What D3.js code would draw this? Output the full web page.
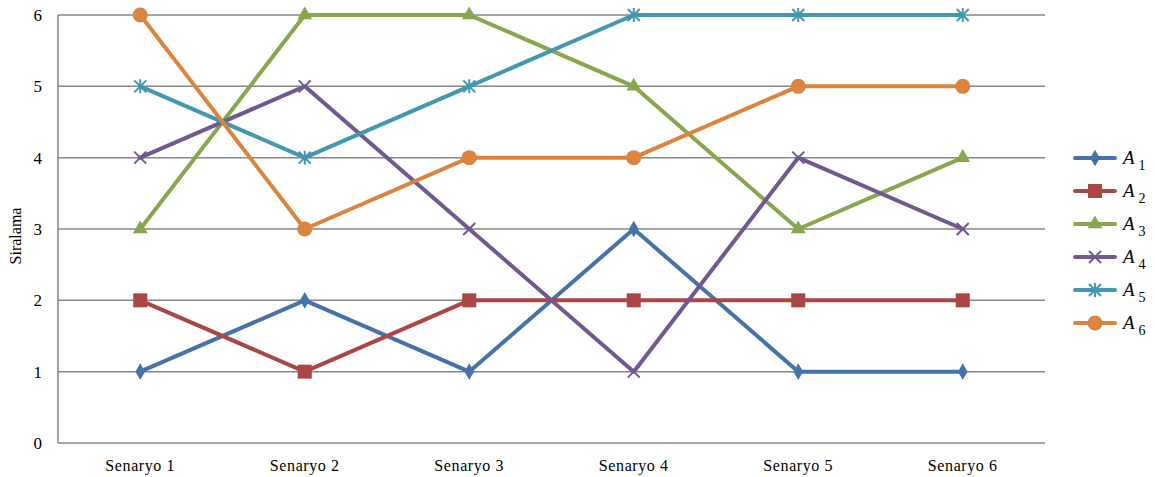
<!DOCTYPE html>
<html><head><meta charset="utf-8">
<script src="https://cdn.jsdelivr.net/npm/d3@7"></script>
<style>body{margin:0;background:#fff}svg{display:block}</style>
</head><body><svg id="c" width="1155" height="477"></svg>
<script>
const categories = ["Senaryo 1","Senaryo 2","Senaryo 3","Senaryo 4","Senaryo 5","Senaryo 6"];
const yTicks = [0,1,2,3,4,5,6];
const seriesNames = ["1","2","3","4","5","6"];
const A1 = [1,2,1,3,1,1];
const A2 = [2,1,2,2,2,2];
const A3 = [3,6,6,5,3,4];
const A4 = [4,5,3,1,4,3];
const A5 = [5,4,5,6,6,6];
const A6 = [6,3,4,4,5,5];
const seriesValues = [A1,A2,A3,A4,A5,A6];
const colors = ["#4572A7","#AA4643","#89A54E","#71588F","#4198AF","#DB843D"];
const markers = ["diamond","square","triangle","x","star","circle"];
const FONT = "'Liberation Serif','Times New Roman',serif";

const svg = d3.select("#c");
const L=58,R=1045,T=15,B=443;
const x = d3.scaleBand().domain(categories).range([L,R]);
const y = d3.scaleLinear().domain([0,6]).range([B,T]);
const cx = c => x(c)+x.bandwidth()/2;

svg.append("g").selectAll("line").data(yTicks).join("line")
  .attr("x1",L).attr("x2",R).attr("y1",d=>y(d)).attr("y2",d=>y(d))
  .attr("stroke","#868686").attr("stroke-width",1.5);
svg.append("line").attr("x1",L).attr("x2",L).attr("y1",T).attr("y2",B)
  .attr("stroke","#868686").attr("stroke-width",1.5);

const ya = svg.append("g").attr("transform",`translate(${L},0)`)
  .call(d3.axisLeft(y).tickValues(yTicks).tickSize(0).tickPadding(16).tickFormat(d3.format("d")));
ya.select(".domain").remove();
ya.selectAll("text").style("font-family",FONT).style("font-size","17px").attr("fill","#000");

const xa = svg.append("g").attr("transform",`translate(0,${B})`)
  .call(d3.axisBottom(x).tickSize(0).tickPadding(17));
xa.select(".domain").remove();
xa.selectAll("text").style("font-family",FONT).style("font-size","16px").style("letter-spacing","0.6px").attr("fill","#000");

svg.append("text").attr("transform","translate(21,236) rotate(-90)")
  .attr("text-anchor","middle").style("font-family",FONT).style("font-size","16px").text("Siralama");

function drawMarker(g, type, color, px, py){
  if(type==="diamond"){
    g.append("path").attr("d",d3.symbol(d3.symbolDiamond,80)()).attr("transform",`translate(${px},${py})`).attr("fill",color);
  } else if(type==="square"){
    g.append("rect").attr("x",px-7).attr("y",py-7).attr("width",14).attr("height",14).attr("fill",color);
  } else if(type==="triangle"){
    g.append("path").attr("d",d3.symbol(d3.symbolTriangle,95)()).attr("transform",`translate(${px},${py})`).attr("fill",color);
  } else if(type==="x"){
    const s=6;
    g.append("path").attr("d",`M${px-s},${py-s}L${px+s},${py+s}M${px-s},${py+s}L${px+s},${py-s}`).attr("stroke",color).attr("stroke-width",2);
  } else if(type==="star"){
    const s=6;
    g.append("path").attr("d",`M${px-s},${py-s}L${px+s},${py+s}M${px-s},${py+s}L${px+s},${py-s}M${px},${py-s-1}L${px},${py+s+1}`).attr("stroke",color).attr("stroke-width",2);
  } else if(type==="circle"){
    g.append("circle").attr("cx",px).attr("cy",py).attr("r",7.5).attr("fill",color);
  }
}

const line = d3.line().x((d,i)=>cx(categories[i])).y(d=>y(d));
seriesValues.forEach((vals,si)=>{
  const g = svg.append("g");
  g.append("path").attr("d",line(vals)).attr("fill","none").attr("stroke",colors[si])
    .attr("stroke-width",4).attr("stroke-linejoin","round").attr("stroke-linecap","round");
  vals.forEach((v,i)=>drawMarker(g,markers[si],colors[si],cx(categories[i]),y(v)));
});

const legY = d3.scalePoint().domain(seriesNames).range([158,323]);
seriesNames.forEach((n,si)=>{
  const ly = legY(n);
  const g = svg.append("g");
  g.append("line").attr("x1",1075).attr("x2",1115).attr("y1",ly).attr("y2",ly)
    .attr("stroke",colors[si]).attr("stroke-width",4).attr("stroke-linecap","round");
  drawMarker(g,markers[si],colors[si],1095,ly);
  const t = g.append("text").attr("x",1123).attr("y",ly+6).style("font-family",FONT).style("font-size","19px");
  t.append("tspan").style("font-style","italic").text("A");
  t.append("tspan").attr("dx",4).attr("dy",6).style("font-size","14px").text(n);
});
</script></body></html>
